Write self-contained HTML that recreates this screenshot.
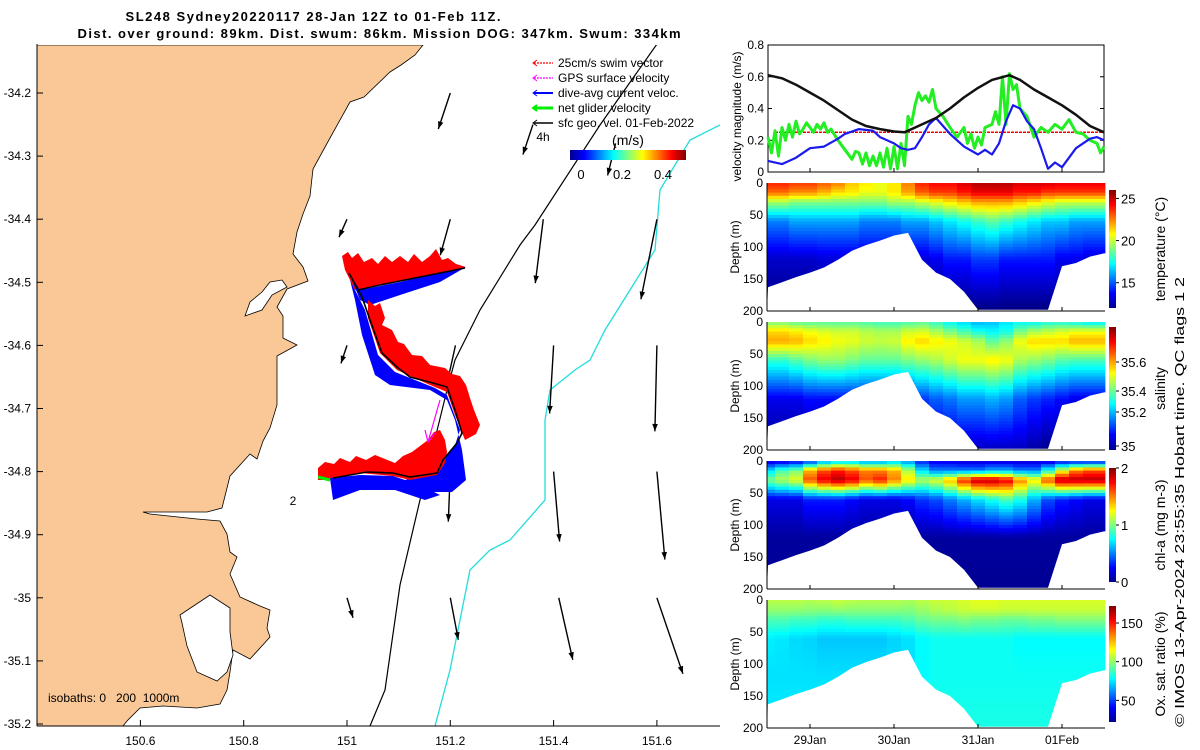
<!DOCTYPE html>
<html><head><meta charset="utf-8">
<style>
html,body{margin:0;padding:0;background:#fff;}
svg{display:block;font-family:"Liberation Sans","DejaVu Sans",sans-serif;}
</style></head>
<body>
<svg id="fig" width="1200" height="750" viewBox="0 0 1200 750" xmlns="http://www.w3.org/2000/svg">
<defs>
<linearGradient id="jetV" x1="0" y1="1" x2="0" y2="0">
<stop offset="0" stop-color="#00008f"/><stop offset="0.125" stop-color="#0000ff"/><stop offset="0.375" stop-color="#00ffff"/><stop offset="0.625" stop-color="#ffff00"/><stop offset="0.875" stop-color="#ff0000"/><stop offset="1" stop-color="#800000"/>
</linearGradient>
<linearGradient id="jetH" x1="0" y1="0" x2="1" y2="0">
<stop offset="0" stop-color="#00008f"/><stop offset="0.125" stop-color="#0000ff"/><stop offset="0.375" stop-color="#00ffff"/><stop offset="0.625" stop-color="#ffff00"/><stop offset="0.875" stop-color="#ff0000"/><stop offset="1" stop-color="#800000"/>
</linearGradient>
<clipPath id="mapclip"><rect x="37" y="45" width="683" height="681"/></clipPath>
</defs>

<text x="313" y="21" text-anchor="middle" font-weight="bold" font-size="13" textLength="375">SL248 Sydney20220117 28-Jan 12Z to 01-Feb 11Z.</text>
<text x="379" y="38" text-anchor="middle" font-weight="bold" font-size="13" textLength="603">Dist. over ground: 89km. Dist. swum: 86km. Mission DOG: 347km. Swum: 334km</text>

<g id="map" clip-path="url(#mapclip)">
<path fill="#fac896" stroke="#000" stroke-width="0.8" d="M37,45 L423,45 L415,55 L401,65 L390,72 L364,97 L350,102 L330,138 L313,169 L310,196 L303,214 L297,232 L293,254 L303,267 L308,281 L287,289 L277,307 L283,316 L283,338 L297,345 L277,356 L277,383 L277,405 L270,428 L263,441 L257,459 L250,454 L230,476 L222,508 L207,512 L143,512 L150,514 L197,519 L220,521 L227,534 L230,552 L237,557 L230,574 L240,597 L260,606 L270,610 L267,628 L270,637 L250,659 L233,650 L230,672 L227,690 L220,704 L197,708 L163,706 L140,708 L127,721 L123,726 L37,726 Z"/>
<path fill="#fff" stroke="#000" stroke-width="0.8" d="M245,316 L250,302 L262,292 L270,282 L282,280 L287,287 L272,295 L262,310 Z"/>
<path fill="#fff" stroke="#000" stroke-width="0.8" d="M180,615 L210,595 L230,608 L230,632 L233,655 L227,672 L217,681 L197,672 L187,646 L182,623 Z"/>
<polyline fill="none" stroke="#000" stroke-width="1.2" points="657,44 600,125 535,225 520,245 480,310 455,360 447,390 420,500 400,585 385,690 370,726"/>
<polyline fill="none" stroke="#22dddd" stroke-width="1.3" points="720,125 690,140 660,190 655,250 630,290 605,330 590,360 575,370 550,390 545,420 545,470 545,500 510,540 490,550 470,570 460,620 450,670 435,726"/>
<g id="arrows"></g>
<polygon fill="#ff0000" points="342,256 348,252 352,258 358,253 364,262 372,258 378,264 385,256 392,262 400,256 408,262 414,254 422,262 430,256 436,249 442,260 448,258 456,264 466,267 420,278 380,285 355,290 345,270"/>
<polygon fill="#0000ff" points="350,275 360,290 400,282 466,267 440,282 400,295 370,305 360,300"/>
<polygon fill="#0000ff" points="350,280 355,300 362,335 375,375 390,385 430,390 447,400 455,420 462,450 466,480 452,492 420,492 405,480 430,473 455,445 460,430 447,395 435,388 395,372 378,355 365,310"/>
<polygon fill="#ff0000" points="368,300 375,306 380,303 385,318 382,325 392,330 398,342 404,344 412,355 422,356 430,365 445,368 452,374 460,376 466,385 470,398 474,410 480,425 476,434 465,440 455,415 447,392 430,385 397,370 380,353 368,318"/>
<polygon fill="#ff0000" points="318,468 325,462 334,464 340,458 350,462 356,456 366,460 375,455 385,459 395,463 403,456 412,452 420,446 428,440 434,432 440,430 445,440 447,452 445,463 437,475 410,480 393,476 360,473 333,480 318,480"/>
<polygon fill="#0000ff" points="330,478 360,475 393,476 420,485 440,495 425,500 395,490 360,490 333,500"/>
<polyline fill="none" stroke="#000" stroke-width="1.6" points="465,268 420,277 380,285 358,290 349,273 362,297 370,320 382,353 397,367 410,377 433,383 447,387 455,410 462,433 457,443 443,460 437,473 410,477 393,473 367,472 333,478"/>
<line x1="440" y1="400" x2="428" y2="442" stroke="#ff00ff" stroke-width="1.2"/>
<polyline points="425,430 428,442 435,433" fill="none" stroke="#ff00ff" stroke-width="1.2"/>
<line x1="318" y1="477" x2="330" y2="480" stroke="#00ee00" stroke-width="3"/>
<text x="293" y="505" font-size="12" text-anchor="middle">2</text>
<text x="543" y="141" font-size="12" text-anchor="middle">4h</text>
<text x="48" y="702" font-size="12" xml:space="preserve">isobaths: 0   200  1000m</text>
</g>
<line x1="37" y1="44" x2="37" y2="726" stroke="#000"/>
<line x1="37" y1="726" x2="720" y2="726" stroke="#000"/>
<g id="mapticks" font-size="12"></g>

<g font-size="12">
<line x1="534" y1="63" x2="553" y2="63" stroke="#ff0000" stroke-width="1.3" stroke-dasharray="2,1"/><polyline points="537,60 533,63 537,66" fill="none" stroke="#ff0000"/>
<text x="558" y="67">25cm/s swim vector</text>
<line x1="534" y1="78" x2="553" y2="78" stroke="#ff00ff" stroke-width="1.3" stroke-dasharray="2,1"/><polyline points="537,75 533,78 537,81" fill="none" stroke="#ff00ff"/>
<text x="558" y="82">GPS surface velocity</text>
<line x1="534" y1="93" x2="553" y2="93" stroke="#0000ff" stroke-width="2"/><polyline points="537,90 533,93 537,96" fill="none" stroke="#0000ff"/>
<text x="558" y="97">dive-avg current veloc.</text>
<line x1="534" y1="108" x2="553" y2="108" stroke="#00ee00" stroke-width="3"/><polyline points="537,105 533,108 537,111" fill="none" stroke="#00ee00" stroke-width="2"/>
<text x="558" y="112">net glider velocity</text>
<line x1="534" y1="123" x2="553" y2="123" stroke="#000" stroke-width="1.5"/><polyline points="537,120 533,123 537,126" fill="none" stroke="#000"/>
<text x="558" y="127">sfc geo. vel. 01-Feb-2022</text>
<text x="628" y="145" font-size="14" text-anchor="middle">(m/s)</text>
<rect x="570" y="150" width="116" height="10" fill="url(#jetH)"/>
<text x="581" y="179" text-anchor="middle" font-size="13">0</text>
<text x="622" y="179" text-anchor="middle" font-size="13">0.2</text>
<text x="663" y="179" text-anchor="middle" font-size="13">0.4</text>
</g>

<g id="vel"></g>
<g id="prof"></g>

<text transform="translate(1184,502) rotate(-90)" text-anchor="middle" font-size="13" textLength="450" lengthAdjust="spacingAndGlyphs">© IMOS 13-Apr-2024 23:55:35 Hobart time. QC flags 1  2</text>
</svg>

<script>
const blackHours = [0,4,8,12,16,20,24,28,32,36,39,44,48,52,56,60,64,69,72,76,80,84,88,92,96];
const blackVals  = [0.61,0.59,0.55,0.50,0.45,0.39,0.33,0.29,0.27,0.255,0.25,0.30,0.34,0.40,0.47,0.53,0.58,0.61,0.58,0.52,0.47,0.42,0.36,0.29,0.25];
const blueHours = [0,4,8,12,16,20,22,26,30,32,36,38,40,42,44,46,48,52,56,60,62,64,66,68,70,72,74,76,78,80,82,84,88,92,94,96];
const blueVals  = [0.07,0.05,0.09,0.15,0.16,0.21,0.24,0.27,0.26,0.22,0.18,0.15,0.14,0.15,0.22,0.30,0.34,0.24,0.16,0.11,0.14,0.11,0.18,0.32,0.42,0.40,0.32,0.27,0.15,0.02,0.06,0.03,0.15,0.21,0.22,0.20];
const greenHours = [0,1,2,3,4,5,6,7,8,9,10,11,12,13,14,15,16,17,18,20,22,24,25,26,27,28,29,30,31,32,33,34,35,36,37,38,39,40,41,42,43,44,45,46,47,48,50,52,54,56,57,58,59,60,61,62,64,65,66,67,68,69,70,71,72,74,76,78,80,82,84,86,88,90,92,94,95,96];
const greenVals  = [0.22,0.12,0.26,0.10,0.28,0.20,0.30,0.22,0.32,0.24,0.27,0.31,0.28,0.25,0.30,0.27,0.31,0.25,0.27,0.20,0.14,0.08,0.13,0.12,0.05,0.12,0.04,0.10,0.04,0.12,0.03,0.15,0.02,0.16,0.02,0.18,0.04,0.35,0.30,0.42,0.50,0.45,0.48,0.44,0.52,0.40,0.35,0.28,0.22,0.28,0.18,0.24,0.15,0.22,0.17,0.28,0.30,0.38,0.30,0.60,0.30,0.62,0.52,0.55,0.40,0.35,0.22,0.28,0.25,0.30,0.27,0.33,0.25,0.24,0.20,0.18,0.12,0.16];
const swimHours = [2,96];
const swimVals = [0.25,0.25];
const velTicks = [0,0.2,0.4,0.6,0.8];
const velTickLabels = ["0","0.2","0.4","0.6","0.8"];

const colHours = [0,4,8,12,16,20,24,28,32,36,40,44,48,52,56,60,64,68,72,76,80,84,88,92,96];
const bottomDepth = [163,155,147,140,132,120,106,97,90,82,78,120,140,150,170,198,198,198,198,198,198,130,125,115,110];
const levelDepths = [0,15,30,60,120,200];
const tempAt0   = [23.8,23.8,23.5,23.5,23,22.5,21.5,21,20.5,21,22.5,23.8,24.2,24.2,24.8,25.3,25.3,25.2,24.8,24.8,24.8,24.5,24.5,24.5,24.5];
const tempAt15  = [22.8,22.8,22.3,22.3,21.8,21.2,21,20.5,20.5,21,22,23,23.5,23.5,24,24.5,24.5,24.5,24,24,23.5,23.5,23.5,23.5,23.5];
const tempAt30  = [19.5,19.5,19,19,19,19,19,19,19,19.5,19.5,20,20.5,21,21.5,22,22,22,21.5,21,20.5,20,20,20,20];
const tempAt60  = [15.5,15.5,16,16,16,16,16,15.5,15.5,15.5,16,16,16.5,17,17.5,18,18.5,18,17.5,17,16.5,16.5,16,16,16];
const tempAt120 = [13,13,13,13,13.2,13.2,13.2,13.2,13.2,13.2,13.2,13.2,13.5,14,14,14.5,14.5,14,14,14,14,13.5,13.5,13.2,13.2];
const tempAt200 = [12,12,12,12,12,12,12,12,12,12,12,12,12,12,12,12,12,12,12,12,12,12,12,12,12];
const salAt0   = [35.38,35.38,35.36,35.35,35.35,35.35,35.35,35.34,35.33,35.33,35.34,35.35,35.32,35.28,35.25,35.22,35.23,35.26,35.28,35.28,35.3,35.3,35.28,35.26,35.26];
const salAt15  = [35.52,35.52,35.5,35.48,35.46,35.45,35.45,35.43,35.42,35.42,35.45,35.46,35.42,35.38,35.34,35.3,35.28,35.3,35.38,35.42,35.44,35.46,35.48,35.48,35.48];
const salAt30  = [35.56,35.56,35.55,35.52,35.5,35.48,35.47,35.45,35.44,35.45,35.5,35.52,35.5,35.48,35.45,35.42,35.36,35.4,35.48,35.52,35.52,35.52,35.55,35.55,35.55];
const salAt60  = [35.32,35.32,35.35,35.38,35.4,35.4,35.38,35.36,35.36,35.36,35.38,35.4,35.42,35.45,35.48,35.48,35.5,35.48,35.42,35.4,35.38,35.35,35.34,35.34,35.34];
const salAt120 = [35.06,35.06,35.06,35.08,35.08,35.08,35.08,35.08,35.08,35.08,35.1,35.12,35.15,35.17,35.2,35.2,35.22,35.2,35.15,35.12,35.1,35.08,35.06,35.06,35.06];
const salAt200 = [34.98,34.98,34.98,34.98,34.98,34.98,34.98,34.98,34.98,34.98,34.98,35.0,35.02,35.02,35.02,35.02,35.02,35.02,35.02,35.0,34.98,34.98,34.98,34.98,34.98];
const chlAt0   = [0.15,0.15,0.2,0.3,0.5,0.6,0.6,0.5,0.5,0.6,0.5,0.3,0.2,0.2,0.15,0.15,0.15,0.15,0.15,0.15,0.15,0.2,0.2,0.2,0.2];
const chlAt15  = [0.7,0.9,1.0,1.4,1.6,1.7,1.6,1.5,1.5,1.4,1.1,0.7,0.5,0.5,0.5,0.5,0.6,0.6,0.5,0.5,0.8,1.2,1.5,1.6,1.6];
const chlAt30  = [1.0,1.1,1.2,1.6,1.8,1.9,1.8,1.6,1.7,1.5,1.3,1.1,1.2,1.4,1.7,1.9,1.9,1.8,1.5,1.3,1.6,1.9,1.9,1.9,1.9];
const chlAt60  = [0.2,0.2,0.2,0.3,0.3,0.3,0.25,0.2,0.2,0.2,0.25,0.35,0.4,0.5,0.6,0.7,0.8,0.9,0.8,0.6,0.4,0.3,0.25,0.2,0.2];
const chlAt120 = [0.06,0.06,0.06,0.06,0.06,0.06,0.06,0.06,0.06,0.06,0.06,0.06,0.06,0.06,0.06,0.06,0.06,0.06,0.06,0.06,0.06,0.06,0.06,0.06,0.06];
const chlAt200 = [0.04,0.04,0.04,0.04,0.04,0.04,0.04,0.04,0.04,0.04,0.04,0.04,0.04,0.04,0.04,0.04,0.04,0.04,0.04,0.04,0.04,0.04,0.04,0.04,0.04];
const oxAt0   = [106,106,106,105,106,108,106,105,105,105,104,106,108,108,110,112,112,110,110,110,110,110,110,110,110];
const oxAt15  = [100,100,100,99,99,100,99,99,99,99,98,101,104,106,108,109,109,108,108,108,108,108,108,108,108];
const oxAt30  = [90,90,88,88,86,86,88,88,88,88,90,94,96,96,98,96,96,94,94,96,96,98,98,98,98];
const oxAt60  = [76,75,73,72,70,70,70,70,70,72,74,78,80,80,80,80,80,80,78,78,78,78,78,78,78];
const oxAt120 = [74,74,74,74,74,74,74,74,74,74,74,78,80,80,80,80,80,80,80,80,80,80,80,80,80];
const oxAt200 = [76,76,76,76,76,76,76,76,76,76,76,80,82,82,82,82,82,82,82,82,82,82,82,82,82];
const dateTickHours = [12,36,60,84];
const dateTickLabels = ["29Jan","30Jan","31Jan","01Feb"];
const depthTicks = [0,50,100,150,200];

const lonTicks = [150.6,150.8,151,151.2,151.4,151.6];
const lonLabels = ["150.6","150.8","151","151.2","151.4","151.6"];
const latTicks = [-34.2,-34.3,-34.4,-34.5,-34.6,-34.7,-34.8,-34.9,-35,-35.1,-35.2];
const latLabels = ["-34.2","-34.3","-34.4","-34.5","-34.6","-34.7","-34.8","-34.9","-35","-35.1","-35.2"];
const arrLon = [151.2,151.36,151.52,151.0,151.2,151.38,151.6,151.0,151.21,151.4,151.6,151.2,151.4,151.6,151.0,151.2,151.41,151.6];
const arrLat = [-34.2,-34.25,-34.28,-34.4,-34.4,-34.4,-34.4,-34.6,-34.6,-34.6,-34.6,-34.8,-34.8,-34.8,-35.0,-35.0,-35.0,-35.0];
const arrU = [-0.06,-0.05,-0.04,-0.04,-0.05,-0.04,-0.08,-0.03,-0.04,-0.02,-0.01,-0.01,0.03,0.04,0.03,0.04,0.07,0.13];
const arrV = [-0.18,-0.15,-0.16,-0.09,-0.18,-0.32,-0.40,-0.09,-0.18,-0.34,-0.43,-0.25,-0.35,-0.44,-0.10,-0.21,-0.31,-0.38];

const NS = "http://www.w3.org/2000/svg";
function mk(tag, attrs, parent){ const e=document.createElementNS(NS,tag); for(const k in attrs) e.setAttribute(k,attrs[k]); parent.appendChild(e); return e; }

function jet(t){
  t=Math.max(0,Math.min(1,t));
  const c=v=>Math.round(255*Math.max(0,Math.min(1,v)));
  const r=c(1.5-Math.abs(4*t-3)), g=c(1.5-Math.abs(4*t-2)), b=c(1.5-Math.abs(4*t-1));
  return `rgb(${r},${g},${b})`;
}

const mt=document.getElementById('mapticks');
const lonX = lon => 347 + (lon-151)*516.5;
const latY = lat => 93 + (-34.2-lat)*631;
lonTicks.forEach((lon,i)=>{
  const x=lonX(lon);
  const tk=mk('line',{x1:x,y1:726,x2:x,y2:720,stroke:'#000'},mt);
  
  
  const t=mk('text',{x:x,y:745,'text-anchor':'middle'},mt); t.textContent=lonLabels[i];
  
  
});
latTicks.forEach((lat,i)=>{
  const y=latY(lat);
  const tk=mk('line',{x1:37,y1:y,x2:43,y2:y,stroke:'#000'},mt);
  
  
  const t=mk('text',{x:31,y:y+4,'text-anchor':'end'},mt); t.textContent=latLabels[i];
  
  
});
const ag=document.getElementById('arrows');
const arrScale=200;
arrLon.forEach((lon,i)=>{
  const x1=lonX(lon), y1=latY(arrLat[i]);
  const x2=x1+arrU[i]*arrScale, y2=y1-arrV[i]*arrScale;
  const ang=Math.atan2(y2-y1,x2-x1), hl=8;
  const g=mk('g',{},ag);
  
  
  mk('line',{x1:x1,y1:y1,x2:x2,y2:y2,stroke:'#000','stroke-width':1.4},g);
  const p1=[x2-hl*Math.cos(ang-0.35),y2-hl*Math.sin(ang-0.35)], p2=[x2-hl*Math.cos(ang+0.35),y2-hl*Math.sin(ang+0.35)];
  mk('polygon',{points:`${x2},${y2} ${p1[0]},${p1[1]} ${p2[0]},${p2[1]}`,fill:'#000'},g);
});

const vg=document.getElementById('vel');
const VX0=768, VX1=1104, VY0=45, VY1=172;
const tX = h => VX0 + h*3.5;
const vY = v => VY1 - v*(VY1-VY0)/0.8;
const vbox=mk('rect',{x:VX0,y:VY0,width:VX1-VX0,height:VY1-VY0,fill:'#fff',stroke:'#000','stroke-width':1},vg);


velTicks.forEach((v,i)=>{
  const y=vY(v);
  mk('line',{x1:VX0,y1:y,x2:VX0+4,y2:y,stroke:'#000'},vg);
  mk('line',{x1:VX1,y1:y,x2:VX1-4,y2:y,stroke:'#000'},vg);
  const t=mk('text',{x:VX0-4,y:y+4,'text-anchor':'end','font-size':12},vg); t.textContent=velTickLabels[i];
  
  
});
dateTickHours.forEach(h=>{ mk('line',{x1:tX(h),y1:VY1,x2:tX(h),y2:VY1-4,stroke:'#000'},vg); });
const vyl=mk('text',{transform:`translate(741,${(VY0+VY1)/2+8}) rotate(-90)`,'text-anchor':'middle','font-size':12},vg);
vyl.textContent='velocity magnitude (m/s)';


function series(hours, vals, color, width, name, dash){
  const pts=hours.map((h,i)=>`${tX(h).toFixed(1)},${vY(vals[i]).toFixed(1)}`).join(' ');
  const a={points:pts,fill:'none',stroke:color,'stroke-width':width,'stroke-linejoin':'round'};
  if(dash) a['stroke-dasharray']=dash;
  const e=mk('polyline',a,vg);
  
  
}
series(swimHours, swimVals, '#ff0000', 1.5, 'swim-speed-line', '3,1');
series(greenHours, greenVals, '#22ee22', 3, 'net-glider-velocity-line');
series(blueHours, blueVals, '#1a1aee', 2.2, 'dive-avg-current-line');
series(blackHours, blackVals, '#111', 2.5, 'sfc-geo-velocity-line');

const pg=document.getElementById('prof');
const panels=[
  {top:183, levels:[tempAt0,tempAt15,tempAt30,tempAt60,tempAt120,tempAt200], vmin:12, vmax:26, cb:[190,308], ticks:[25,20,15], tickLabels:["25","20","15"], tickY:null, title:'temperature (°C)', name:'temperature'},
  {top:322, levels:[salAt0,salAt15,salAt30,salAt60,salAt120,salAt200], vmin:34.97, vmax:35.8, cb:[327,450], ticks:[35.6,35.4,35.2,35], tickLabels:["35.6","35.4","35.2","35"], tickY:[362,391,412,446], title:'salinity', name:'salinity'},
  {top:461, levels:[chlAt0,chlAt15,chlAt30,chlAt60,chlAt120,chlAt200], vmin:0, vmax:2, cb:[468,582], ticks:[2,1,0], tickLabels:["2","1","0"], tickY:null, title:'chl-a (mg m-3)', name:'chlorophyll'},
  {top:600, levels:[oxAt0,oxAt15,oxAt30,oxAt60,oxAt120,oxAt200], vmin:22, vmax:172, cb:[606,722], ticks:[150,100,50], tickLabels:["150","100","50"], tickY:null, title:'Ox. sat. ratio (%)', name:'oxygen'}
];
const PX0=767, PX1=1105, DZ=0.64, dz=5;
function valueAt(levels, col, z){
  for(let k=0;k<levelDepths.length-1;k++){
    if(z<=levelDepths[k+1]){
      const f=(z-levelDepths[k])/(levelDepths[k+1]-levelDepths[k]);
      return levels[k][col]*(1-f)+levels[k+1][col]*f;
    }
  }
  return levels[levels.length-1][col];
}
panels.forEach((P,pi)=>{
  const g=mk('g',{},pg);
  
  
  const dY = z => P.top + z*DZ;
  colHours.forEach((h,ci)=>{
    const x0=Math.max(PX0, tX(h)-7), x1=Math.min(PX1, tX(h)+7);
    for(let z=0; z<200; z+=dz){
      const v=valueAt(P.levels, ci, z+dz/2);
      const r=mk('rect',{x:x0.toFixed(1),y:dY(z).toFixed(1),width:(x1-x0+0.4).toFixed(1),height:(dz*DZ+0.4).toFixed(1),fill:jet((v-P.vmin)/(P.vmax-P.vmin))},g);
      
      
    }
  });
  const pts=[`${PX0},${dY(201)}`].concat(colHours.map((h,ci)=>`${Math.max(PX0,Math.min(PX1,tX(h))).toFixed(1)},${dY(bottomDepth[ci]).toFixed(1)}`)).concat([`${PX1+1},${dY(bottomDepth[bottomDepth.length-1])}`,`${PX1+1},${dY(201)}`]);
  const mask=mk('polygon',{points:pts.join(' '),fill:'#fff'},g);
  
  
  mk('line',{x1:PX0,y1:P.top,x2:PX0,y2:dY(200),stroke:'#000'},g);
  mk('line',{x1:PX0,y1:dY(200),x2:PX1,y2:dY(200),stroke:'#000'},g);
  depthTicks.forEach(d=>{
    const t=mk('text',{x:PX0-4,y:dY(d)+4,'text-anchor':'end','font-size':12},g); t.textContent=String(d);
    
    
  });
  const yl=mk('text',{transform:`translate(739,${P.top+64}) rotate(-90)`,'text-anchor':'middle','font-size':12},g);
  yl.textContent='Depth (m)';
  
  
  dateTickHours.forEach(h=>{ mk('line',{x1:tX(h),y1:dY(200),x2:tX(h),y2:dY(200)-4,stroke:'#000'},g); });
  const cb=mk('rect',{x:1109,y:P.cb[0],width:7,height:P.cb[1]-P.cb[0],fill:'url(#jetV)'},g);
  
  
  P.ticks.forEach((tv,k)=>{
    const y = P.tickY ? P.tickY[k] : P.cb[1]-(tv-P.vmin)/(P.vmax-P.vmin)*(P.cb[1]-P.cb[0]);
    mk('line',{x1:1116,y1:y,x2:1119,y2:y,stroke:'#000'},g);
    const t=mk('text',{x:1121,y:y+5,'font-size':13},g); t.textContent=P.tickLabels[k];
    
    
  });
  const ct=mk('text',{transform:`translate(1165,${(P.cb[0]+P.cb[1])/2}) rotate(-90)`,'text-anchor':'middle','font-size':14},g);
  ct.textContent=P.title;
  
  
});
dateTickHours.forEach((h,i)=>{
  const t=mk('text',{x:tX(h),y:744,'text-anchor':'middle','font-size':12},pg); t.textContent=dateTickLabels[i];
  
  
});
</script>
</body></html>
